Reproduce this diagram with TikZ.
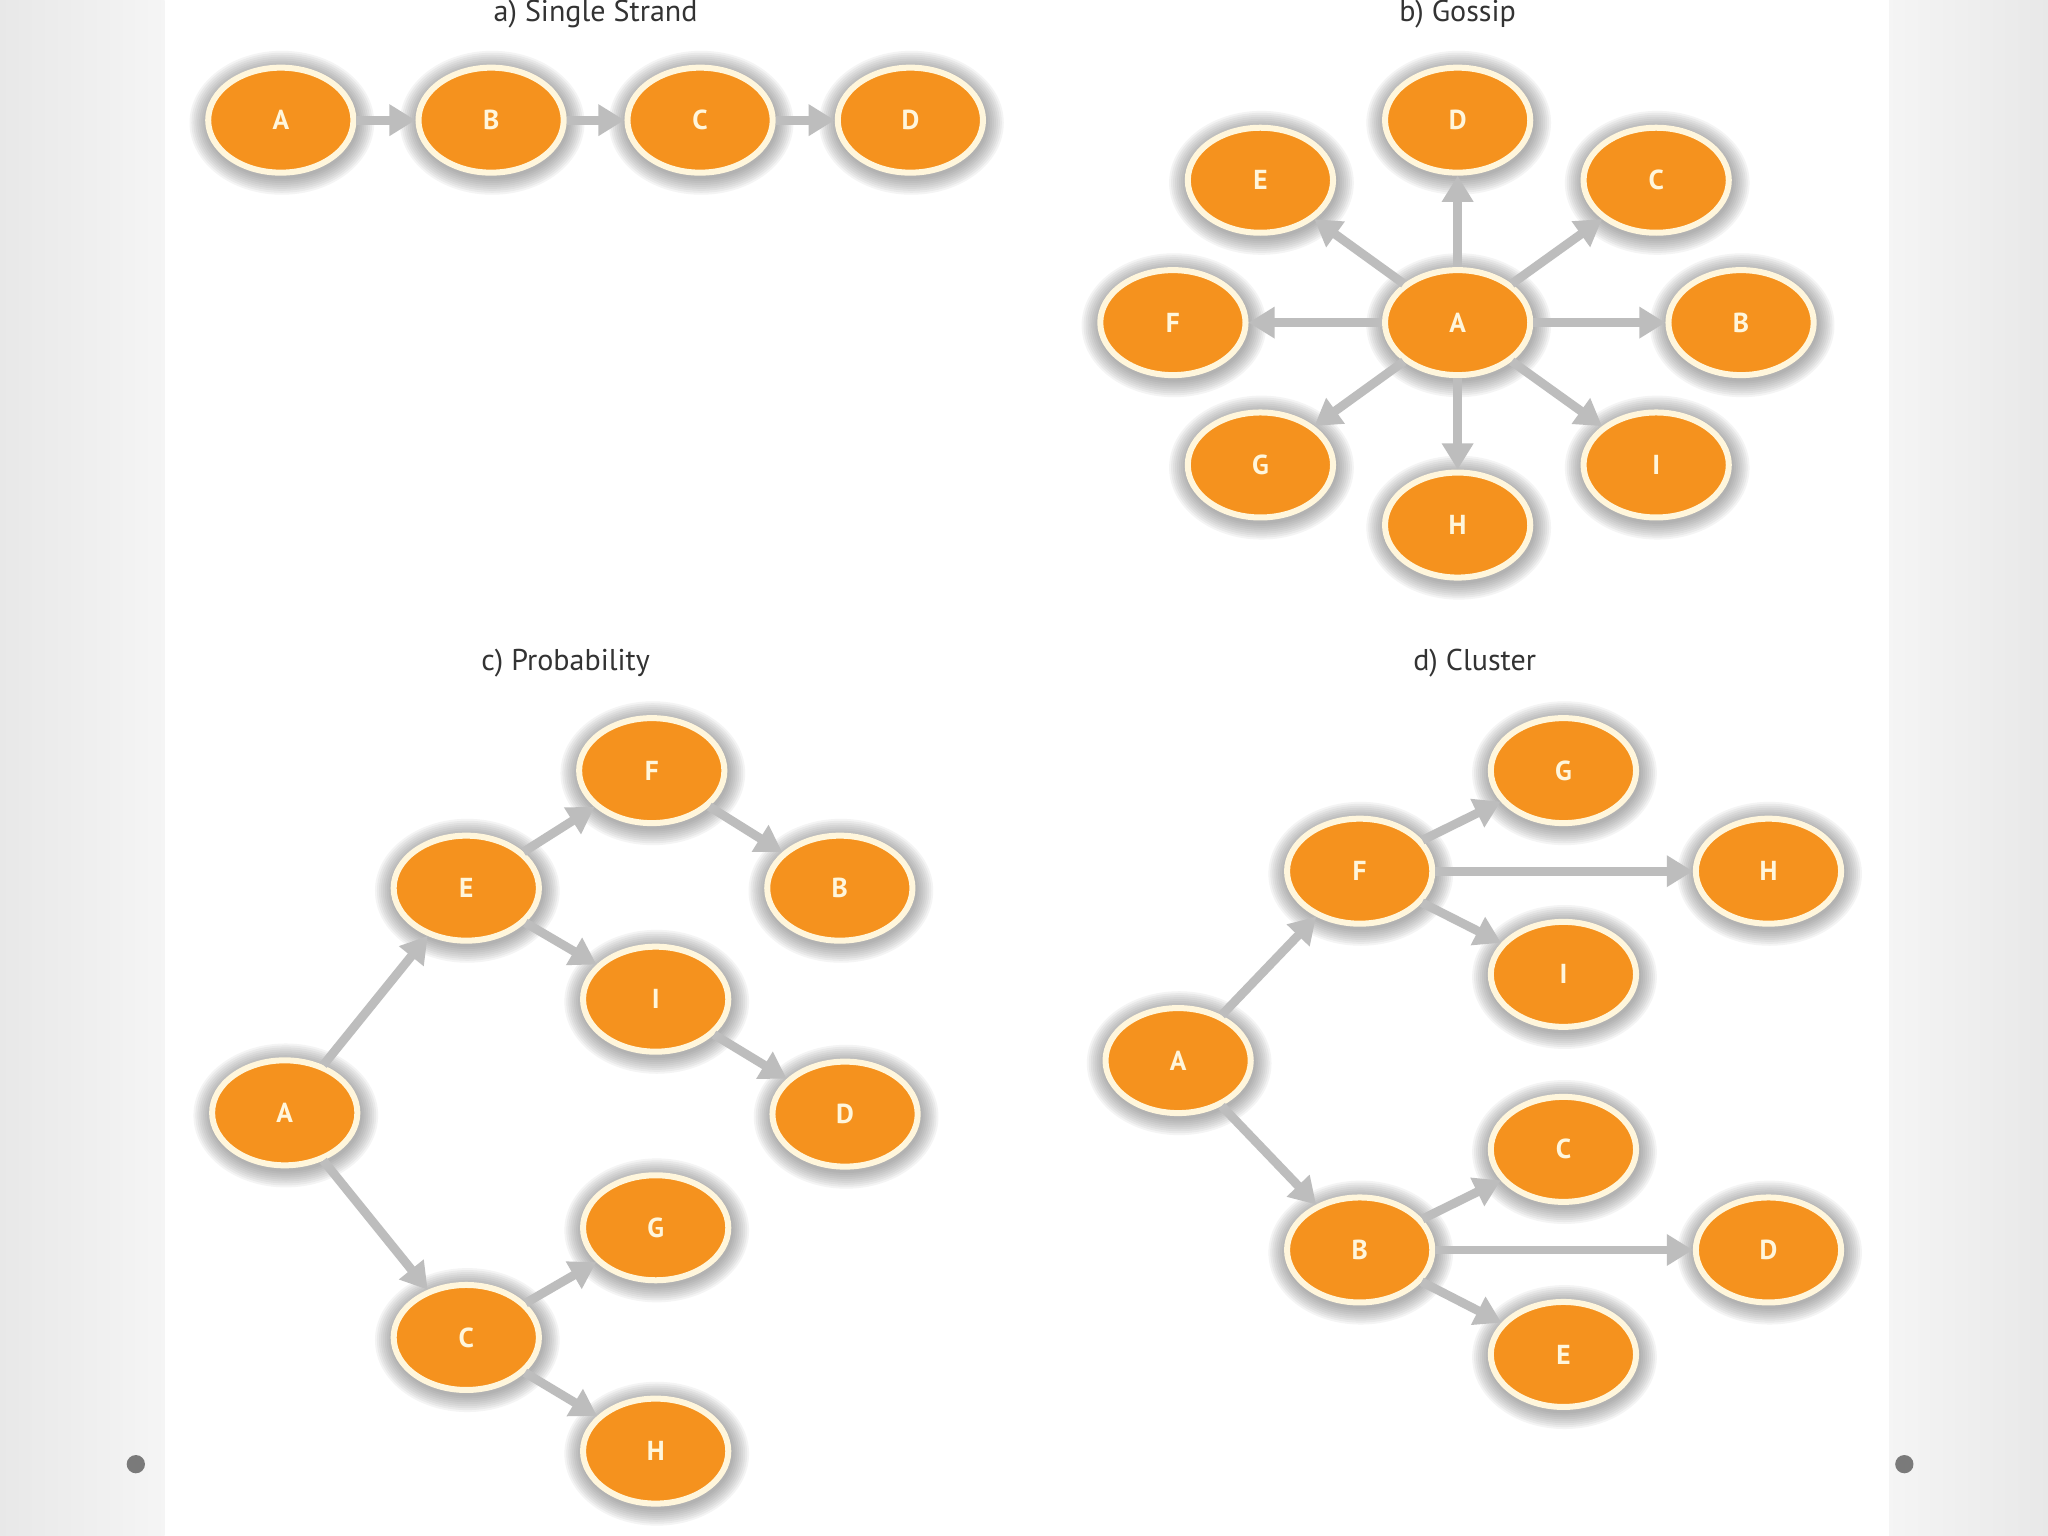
\documentclass[tikz,border=0pt]{standalone}
\usepackage{fontspec}
\setsansfont{PT Sans}
\usetikzlibrary{arrows.meta,shapes.geometric}
\definecolor{nodeorange}{HTML}{F5921E}
\definecolor{ringcol}{HTML}{FFF6DC}
\definecolor{arrowgray}{HTML}{BDBDBD}
\definecolor{titlegray}{HTML}{333333}
\definecolor{dotgray}{HTML}{7A7A7A}
\newcommand\bubble[3]{%
  \foreach \k in {1,...,9}{\fill[black!60, opacity=0.07] ([xshift=0.4pt,yshift=-1pt]#2) ellipse ({28.6pt+\k*0.75pt} and {20.8pt+\k*0.75pt});}
  \node[bub] (#1) at (#2) {#3};}
\begin{document}
\begin{tikzpicture}[x=0.5pt,y=-0.5pt,
  bub/.style={ellipse, minimum width=55.6pt, minimum height=40.2pt, inner sep=0pt,
    fill=nodeorange, draw=ringcol, line width=2.3pt, text=ringcol,
    font=\sffamily\bfseries\fontsize{10.5}{10.5}\selectfont},
  arr/.style={draw=arrowgray, line width=3.4pt, -{Triangle[length=10pt,width=11.5pt]}},
  ttl/.style={font=\sffamily\fontsize{11.5}{13}\selectfont, text=titlegray, inner sep=0pt}]
% background
\useasboundingbox (0,0) rectangle (1568,1176);
\shade[left color=black!9, right color=black!4] (0,0) rectangle (126,1176);
\shade[left color=black!4, right color=black!9] (1446,0) rectangle (1568,1176);
\fill[white] (126,0) rectangle (1446,1176);
\fill[dotgray] (104,1121) circle (3.5pt);
\fill[dotgray] (1458,1121) circle (3.5pt);
% titles
\node[ttl] (ta) at (456,11) {a) Single Strand};
\node[ttl] (tb) at (1116,11) {b) Gossip};
\node[ttl] (tc) at (433,508) {c) Probability};
\node[ttl] (td) at (1129,508) {d) Cluster};
% a) single strand
\bubble{aA}{215,92}{A}
\bubble{aB}{376,92}{B}
\bubble{aC}{536,92}{C}
\bubble{aD}{697,92}{D}
\draw[arr] (aA) -- (aB);
\draw[arr] (aB) -- (aC);
\draw[arr] (aC) -- (aD);
% b) gossip
\bubble{bA}{1116,247}{A}
\bubble{bD}{1116,92}{D}
\bubble{bE}{965,138}{E}
\bubble{bC}{1268,138}{C}
\bubble{bF}{898,247}{F}
\bubble{bB}{1333,247}{B}
\bubble{bG}{965,356}{G}
\bubble{bI}{1268,356}{I}
\bubble{bH}{1116,402}{H}
\foreach \t in {bD,bE,bC,bF,bB,bG,bI,bH}{\draw[arr] (bA) -- (\t);}
% c) probability
\bubble{cA}{218,852}{A}
\bubble{cE}{357,680}{E}
\bubble{cF}{499,590}{F}
\bubble{cB}{643,680}{B}
\bubble{cI}{502,765}{I}
\bubble{cD}{647,853}{D}
\bubble{cG}{502,940}{G}
\bubble{cC}{357,1024}{C}
\bubble{cH}{502,1111}{H}
\draw[arr] (cA) -- (cE);
\draw[arr] (cE) -- (cF);
\draw[arr] (cF) -- (cB);
\draw[arr] (cE) -- (cI);
\draw[arr] (cI) -- (cD);
\draw[arr] (cA) -- (cC);
\draw[arr] (cC) -- (cG);
\draw[arr] (cC) -- (cH);
% d) cluster
\bubble{dA}{902,812}{A}
\bubble{dF}{1041,667}{F}
\bubble{dG}{1197,590}{G}
\bubble{dH}{1354,667}{H}
\bubble{dI}{1197,746}{I}
\bubble{dB}{1041,957}{B}
\bubble{dC}{1197,880}{C}
\bubble{dD}{1354,957}{D}
\bubble{dE}{1197,1037}{E}
\draw[arr] (dA) -- (dF);
\draw[arr] (dF) -- (dG);
\draw[arr] (dF) -- (dH);
\draw[arr] (dF) -- (dI);
\draw[arr] (dA) -- (dB);
\draw[arr] (dB) -- (dC);
\draw[arr] (dB) -- (dD);
\draw[arr] (dB) -- (dE);
\end{tikzpicture}
\end{document}
